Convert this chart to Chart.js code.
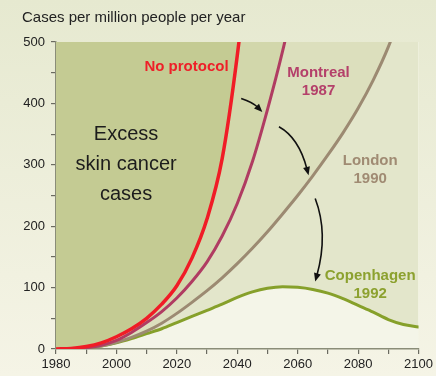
<!DOCTYPE html>
<html>
<head>
<meta charset="utf-8">
<script src="https://cdn.jsdelivr.net/npm/chart.js@4"></script>
<style>
  html, body { margin: 0; padding: 0; }
  body { width: 436px; height: 376px; background: linear-gradient(to bottom, #e6e9d0, #f5f4e6); overflow: hidden; }
  #wrap { position: relative; width: 436px; height: 376px; }
</style>
</head>
<body>
<div id="wrap"><canvas id="uvChart"></canvas></div>
<script>
// years sampled every 5 years
const years = [1980, 1985, 1990, 1995, 2000, 2005, 2010, 2015, 2020, 2025, 2030, 2035, 2040,
               2045, 2050, 2055, 2060, 2065, 2070, 2075, 2080, 2085, 2090, 2095, 2100];

// cases per million people per year for each scenario
const noProtocol = [0, 1, 4, 10, 20, 33, 50, 73, 103, 148, 212, 310, 478,
                    700, 960, 1250, 1580, 1950, 2360, 2800, 3300, 3850, 4450, 5100, 5800];
const montreal = [0, 0.5, 2, 6, 14, 27, 43, 61, 83, 110, 142, 184, 237,
                  305, 390, 485, 595, 715, 850, 1000, 1170, 1360, 1570, 1800, 2050];
const london = [0, 0.5, 2, 5, 11, 19, 29, 42, 58, 76, 95, 116, 139,
                164, 191, 220, 250, 282, 316, 352, 392, 438, 492, 560, 640];
const copenhagen = [0, 0.5, 2, 5, 10, 17, 25, 33, 43, 53, 63, 73, 84,
                    93, 99, 101.5, 100.5, 97, 91, 82, 71, 60, 48, 40, 36];

const xLabelYears = [1980, 2000, 2020, 2040, 2060, 2080, 2100];
const yLabelValues = [0, 100, 200, 300, 400, 500];

const FONT = '"Liberation Sans", Arial, sans-serif';

// text on the plot, anchored in data units (baseline of first line)
const notes = [
  { lines: ['Excess', 'skin cancer', 'cases'], x: 2003.2, y: 340, color: '#1c1c1c', font: '20px ' + FONT, lh: 30 },
  { lines: ['No protocol'], x: 2023.2, y: 453, color: '#ee1f28', font: 'bold 15px ' + FONT, lh: 18 },
  { lines: ['Montreal', '1987'], x: 2066.9, y: 443, color: '#b4406a', font: 'bold 15px ' + FONT, lh: 18 },
  { lines: ['London', '1990'], x: 2084.0, y: 300, color: '#a08b73', font: 'bold 15px ' + FONT, lh: 18 },
  { lines: ['Copenhagen', '1992'], x: 2084.0, y: 112, color: '#8ca12f', font: 'bold 15px ' + FONT, lh: 18 }
];

// curved arrows: start, control, end (data units)
const arrows = [
  [[2041.3, 408], [2045.1, 402], [2048.3, 386]],
  [[2053.8, 362], [2060.4, 344], [2063.6, 283]],
  [[2065.8, 245], [2070.2, 188], [2065.8, 110]]
];

const decorations = {
  id: 'decorations',
  beforeDraw(chart) {
    const { ctx, chartArea: a } = chart;
    ctx.save();
    ctx.fillStyle = '#f4f5e8';
    ctx.fillRect(a.left, a.top, a.right - a.left, a.bottom - a.top);
    ctx.fillStyle = '#222';
    ctx.font = '15px ' + FONT;
    ctx.textBaseline = 'alphabetic';
    ctx.fillText('Cases per million people per year', 22, 22);
    ctx.restore();
  },
  afterDatasetsDraw(chart) {
    const { ctx, scales: { x, y } } = chart;
    ctx.save();
    ctx.textAlign = 'center';
    ctx.textBaseline = 'alphabetic';
    notes.forEach(n => {
      ctx.font = n.font;
      ctx.fillStyle = n.color;
      const px = x.getPixelForValue(n.x);
      const py = y.getPixelForValue(n.y);
      n.lines.forEach((t, i) => ctx.fillText(t, px, py + i * n.lh));
    });

    ctx.strokeStyle = '#111';
    ctx.fillStyle = '#111';
    ctx.lineWidth = 1.6;
    arrows.forEach(([p0, c, p1]) => {
      const s = [x.getPixelForValue(p0[0]), y.getPixelForValue(p0[1])];
      const k = [x.getPixelForValue(c[0]), y.getPixelForValue(c[1])];
      const e = [x.getPixelForValue(p1[0]), y.getPixelForValue(p1[1])];
      const ang = Math.atan2(e[1] - k[1], e[0] - k[0]);
      const head = 9;
      const back = [e[0] - Math.cos(ang) * head * 0.7, e[1] - Math.sin(ang) * head * 0.7];
      ctx.beginPath();
      ctx.moveTo(s[0], s[1]);
      ctx.quadraticCurveTo(k[0], k[1], back[0], back[1]);
      ctx.stroke();
      ctx.beginPath();
      ctx.moveTo(e[0], e[1]);
      ctx.lineTo(e[0] - head * Math.cos(ang - 0.4), e[1] - head * Math.sin(ang - 0.4));
      ctx.lineTo(e[0] - head * Math.cos(ang + 0.4), e[1] - head * Math.sin(ang + 0.4));
      ctx.closePath();
      ctx.fill();
    });
    ctx.restore();
  }
};

const toPoints = vals => vals.map((v, i) => ({ x: years[i], y: v }));

new Chart(document.getElementById('uvChart').getContext('2d'), {
  type: 'line',
  data: {
    datasets: [
      { label: 'No protocol', data: toPoints(noProtocol), borderColor: '#f01c26', borderWidth: 3.5,
        fill: 'end', backgroundColor: '#c4cb93' },
      { label: 'Montreal 1987', data: toPoints(montreal), borderColor: '#b03c62', borderWidth: 3,
        fill: '-1', backgroundColor: '#d2d7ab' },
      { label: 'London 1990', data: toPoints(london), borderColor: '#9c8a72', borderWidth: 3,
        fill: '-1', backgroundColor: '#dcdfbd' },
      { label: 'Copenhagen 1992', data: toPoints(copenhagen), borderColor: '#86a02a', borderWidth: 3,
        fill: '-1', backgroundColor: '#e3e6cb' }
    ]
  },
  options: {
    responsive: true,
    maintainAspectRatio: false,
    animation: false,
    devicePixelRatio: 1,
    layout: { padding: { left: 0, top: 42, right: 13, bottom: 0 } },
    elements: {
      point: { radius: 0, hoverRadius: 0 },
      line: { cubicInterpolationMode: 'monotone', borderCapStyle: 'round' }
    },
    plugins: {
      legend: { display: false },
      tooltip: { enabled: false },
      title: { display: false }
    },
    scales: {
      x: {
        type: 'linear',
        min: 1980,
        max: 2100,
        afterFit: s => { s.height = 27; },
        grid: { drawOnChartArea: false, drawTicks: true, tickLength: 5, color: '#6a6a60', lineWidth: 1.2 },
        border: { display: true, color: '#8a8d78', width: 1.5 },
        ticks: {
          stepSize: 10,
          autoSkip: false,
          maxRotation: 0,
          padding: 3,
          color: '#222',
          font: { family: FONT, size: 13 },
          callback: v => xLabelYears.includes(v) ? String(v) : ''
        }
      },
      y: {
        min: 0,
        max: 500,
        afterFit: s => { s.width = 56; },
        grid: { drawOnChartArea: false, drawTicks: true, tickLength: 5, color: '#6a6a60', lineWidth: 1.2 },
        border: { display: true, color: '#8a8d78', width: 1.5 },
        ticks: {
          stepSize: 50,
          autoSkip: false,
          padding: 6,
          color: '#222',
          font: { family: FONT, size: 13 },
          callback: v => yLabelValues.includes(v) ? String(v) : ''
        }
      }
    }
  },
  plugins: [decorations]
});
</script>
</body>
</html>
